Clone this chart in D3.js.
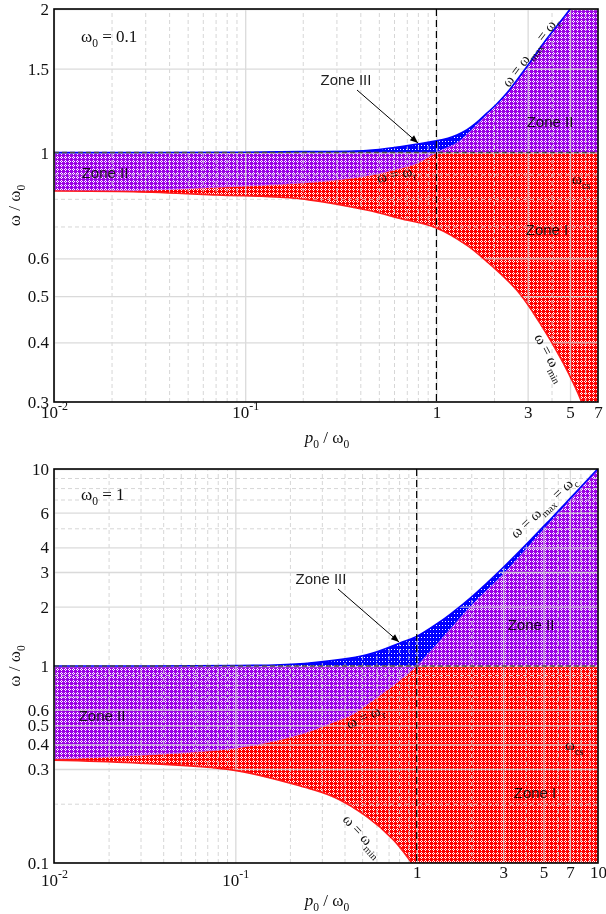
<!DOCTYPE html>
<html>
<head>
<meta charset="utf-8">
<script src="https://cdn.jsdelivr.net/npm/d3@7"></script>
<style>
  body { margin: 0; background: #fff; }
  svg { display: block; }
</style>
</head>
<body>
<svg id="chart" width="606" height="914"></svg>
<script>
// ---------- ω0 = 0.1 : boundary frequencies ω/ω0 against p0/ω0 ----------
const topMaxP = [0.01, 0.1, 0.194, 0.432, 0.645, 1, 1.15, 1.28, 1.44, 1.62, 1.83, 2.05, 2.33, 2.97, 3.77, 5, 7];
const topMax  = [1.000, 1.002, 1.005, 1.010, 1.029, 1.058, 1.072, 1.089, 1.115, 1.155, 1.208, 1.260, 1.331, 1.514, 1.730, 2.000, 2.450];
const topRP   = [0.01, 0.03, 0.071, 0.194, 0.353, 0.507, 0.645, 0.789, 1, 1.28, 1.44, 1.83, 2.33, 2.97, 3.77, 5, 7];
const topR    = [0.831, 0.834, 0.846, 0.863, 0.883, 0.905, 0.927, 0.949, 1.000, 1.047, 1.090, 1.200, 1.331, 1.520, 1.740, 2.010, 2.470];
const topMinP = [0.01, 0.026, 0.071, 0.194, 0.432, 0.645, 1, 1.44, 1.76, 2.63, 3.48, 4.61, 5.75, 7];
const topMin  = [0.831, 0.828, 0.815, 0.800, 0.758, 0.728, 0.695, 0.640, 0.600, 0.515, 0.439, 0.362, 0.300, 0.235];

// ---------- ω0 = 1 ----------
const botMaxP = [0.01, 0.1, 0.228, 0.531, 0.81, 1, 1.346, 1.53, 2.05, 3.01, 4.4, 5.44, 7, 10];
const botMax  = [1.000, 1.005, 1.026, 1.140, 1.310, 1.414, 1.680, 1.830, 2.280, 3.170, 4.510, 5.530, 7.070, 10.05];
const botRP   = [0.01, 0.0975, 0.228, 0.35, 0.43, 0.53, 0.65, 0.75, 0.81, 0.9, 1, 1.346, 2.05, 3.01, 5.44, 10];
const botR    = [0.337, 0.382, 0.450, 0.520, 0.560, 0.635, 0.728, 0.802, 0.849, 0.920, 1.000, 1.344, 2.070, 2.930, 5.360, 9.900];
const botMinP = [0.01, 0.027, 0.0975, 0.228, 0.347, 0.531, 0.745, 0.94, 1.2, 2, 5, 10];
const botMin  = [0.333, 0.323, 0.296, 0.246, 0.217, 0.172, 0.131, 0.100, 0.072, 0.034, 0.014, 0.007];

// ---------- ticks ----------
const topXTicks = [0.01, 0.1, 1, 3, 5, 7];
const topXMinor = [0.02, 0.03, 0.04, 0.05, 0.06, 0.07, 0.08, 0.09, 0.2, 0.3, 0.4, 0.5, 0.6, 0.7, 0.8, 0.9, 2, 4, 6];
const topYTicks = [0.3, 0.4, 0.5, 0.6, 1, 1.5, 2];
const topYMinor = [0.7, 0.8, 0.9];
const botXTicks = [0.01, 0.1, 1, 3, 5, 7, 10];
const botXMinor = [0.02, 0.03, 0.04, 0.05, 0.06, 0.07, 0.08, 0.09, 0.2, 0.3, 0.4, 0.5, 0.6, 0.7, 0.8, 0.9, 2, 4, 6, 8, 9];
const botYTicks = [0.1, 0.3, 0.4, 0.5, 0.6, 1, 2, 3, 4, 6, 10];
const botYMinor = [0.2, 0.7, 0.8, 0.9, 5, 7, 8, 9];

const SERIF = "'Liberation Serif', 'Times New Roman', serif";
const SANS = "'Liberation Sans', Arial, sans-serif";

const svg = d3.select("#chart");
const defs = svg.append("defs");

// dotted fill textures
function makePattern(id, color, w, h, holes) {
  const p = defs.append("pattern").attr("id", id)
    .attr("patternUnits", "userSpaceOnUse").attr("width", w).attr("height", h);
  p.append("rect").attr("width", w).attr("height", h).attr("fill", color);
  holes.forEach(([hx, hy]) => p.append("rect").attr("x", hx).attr("y", hy)
    .attr("width", 1).attr("height", 1).attr("fill", "#fff"));
}
makePattern("patRed", "#ff0000", 4, 4, [[1, 0], [0, 1], [2, 1], [1, 2]]);
makePattern("patPurple", "#9b00e6", 4, 4, [[1, 0], [0, 1], [2, 1], [1, 2]]);
makePattern("patBlue", "#0000ff", 3, 4, [[1, 1]]);

defs.append("marker").attr("id", "arrowHead")
  .attr("viewBox", "0 0 10 10").attr("refX", 10).attr("refY", 5)
  .attr("markerWidth", 10).attr("markerHeight", 8).attr("markerUnits", "userSpaceOnUse")
  .attr("orient", "auto")
  .append("path").attr("d", "M0,1 L10,5 L0,9 Z").attr("fill", "#000");

// text with subscript runs: parts = [[text, isSub], ...]
function richText(sel, parts, size) {
  let shift = 0;
  parts.forEach(([t, sub]) => {
    const target = sub ? size * 0.3 : 0;
    sel.append("tspan").text(t)
      .attr("dy", target - shift)
      .attr("font-size", sub ? size * 0.68 : size);
    shift = target;
  });
  return sel;
}

const smooth = d3.curveCatmullRom.alpha(0.5);

function drawPanel(cfg) {
  const L = 54, R = 598, T = cfg.top, B = cfg.bottom;
  const x = d3.scaleLog().domain(cfg.xDomain).range([L, R]);
  const y = d3.scaleLog().domain(cfg.yDomain).range([B, T]);
  const toRows = (ps, vs) => ps.map((p, i) => ({ p, v: vs[i] }));
  const maxRows = toRows(cfg.maxP, cfg.max);
  const rRows = toRows(cfg.rP, cfg.r);
  const minRows = toRows(cfg.minP, cfg.min);
  const id = cfg.id;
  const g = svg.append("g");

  // clip regions bounded by the boundary curves
  const clip = (name, shape) => defs.append("clipPath").attr("id", `${id}-${name}`).call(shape);
  const under = rows => d3.area().x(d => x(d.p)).y0(B + 5).y1(d => y(d.v)).curve(smooth)(rows);
  const over = rows => d3.area().x(d => x(d.p)).y0(T - 5).y1(d => y(d.v)).curve(smooth)(rows);
  clip("plot", c => c.append("rect").attr("x", L).attr("y", T).attr("width", R - L).attr("height", B - T));
  clip("below1", c => c.append("rect").attr("x", L).attr("y", y(1)).attr("width", R - L).attr("height", B - y(1) + 5));
  clip("above1", c => c.append("rect").attr("x", L).attr("y", T - 5).attr("width", R - L).attr("height", y(1) - T + 5));
  clip("belowMax", c => c.append("path").attr("d", under(maxRows)));
  clip("aboveMin", c => c.append("path").attr("d", over(minRows)));
  clip("belowR", c => c.append("path").attr("d", under(rRows)));
  clip("aboveR", c => c.append("path").attr("d", over(rRows)));

  const nest = (parent, names) => names.reduce((p, n) => p.append("g").attr("clip-path", `url(#${id}-${n})`), parent);
  const plot = nest(g, ["plot"]);
  const fillRect = (grp, pat) => grp.append("rect").attr("x", L).attr("y", T)
    .attr("width", R - L).attr("height", B - T).attr("fill", `url(#${pat})`);

  // Zone II between ω_min and ω_max, Zone I below ω_r and ω_cs, Zone III above both
  fillRect(nest(plot, ["belowMax", "aboveMin"]), "patPurple");
  fillRect(nest(plot, ["belowMax", "aboveMin", "below1", "belowR"]), "patRed");
  fillRect(nest(plot, ["belowMax", "aboveMin", "above1", "aboveR"]), "patBlue");

  // grid
  const grid = plot.append("g").attr("opacity", 0.85);
  const styleGrid = (s, dashed) => {
    s.select(".domain").remove();
    s.selectAll("line").attr("stroke", dashed ? "#cfcfcf" : "#d4d4d4")
      .attr("stroke-width", dashed ? 1 : 1.3)
      .attr("stroke-dasharray", dashed ? "4,3" : null);
  };
  grid.append("g").attr("transform", `translate(0,${B})`)
    .call(d3.axisBottom(x).tickValues(cfg.xMinor).tickSize(-(B - T)).tickFormat(""))
    .call(s => styleGrid(s, true));
  grid.append("g").attr("transform", `translate(${L},0)`)
    .call(d3.axisLeft(y).tickValues(cfg.yMinor).tickSize(-(R - L)).tickFormat(""))
    .call(s => styleGrid(s, true));
  grid.append("g").attr("transform", `translate(0,${B})`)
    .call(d3.axisBottom(x).tickValues(cfg.xTicks).tickSize(-(B - T)).tickFormat(""))
    .call(s => styleGrid(s, false));
  grid.append("g").attr("transform", `translate(${L},0)`)
    .call(d3.axisLeft(y).tickValues(cfg.yTicks).tickSize(-(R - L)).tickFormat(""))
    .call(s => styleGrid(s, false));

  // boundary curves
  const line = d3.line().x(d => x(d.p)).y(d => y(d.v)).curve(smooth);
  nest(plot, ["belowMax", "aboveMin"]).append("path").attr("d", line(rRows)).attr("fill", "none")
    .attr("stroke", "#c070ff").attr("stroke-width", 1).attr("opacity", 0.7);
  plot.append("path").attr("d", line(minRows)).attr("fill", "none")
    .attr("stroke", "#ff1a1a").attr("stroke-width", 1.6);
  plot.append("path").attr("d", line(maxRows)).attr("fill", "none")
    .attr("stroke", "#0000ff").attr("stroke-width", 1.6);

  // ω_cs level and p0 = ω0 marker
  plot.append("line").attr("x1", L).attr("x2", R).attr("y1", y(1)).attr("y2", y(1))
    .attr("stroke", "#4a4a4a").attr("stroke-width", 1.5).attr("stroke-dasharray", "5,3");
  plot.append("line").attr("x1", x(1)).attr("x2", x(1)).attr("y1", T).attr("y2", B)
    .attr("stroke", "#000").attr("stroke-width", 1.2).attr("stroke-dasharray", "7,4");

  // frame
  g.append("rect").attr("x", L).attr("y", T).attr("width", R - L).attr("height", B - T)
    .attr("fill", "none").attr("stroke", "#000").attr("stroke-width", 1.6);

  // y tick labels
  g.append("g").attr("transform", `translate(${L},0)`)
    .call(d3.axisLeft(y).tickValues(cfg.yTicks).tickSize(0).tickPadding(5).tickFormat(d3.format("~g")))
    .call(s => {
      s.select(".domain").remove();
      s.selectAll("text").attr("font-family", SERIF).attr("font-size", 17).attr("fill", "#111");
    });

  // x tick labels
  g.append("g").attr("transform", `translate(0,${B})`)
    .call(d3.axisBottom(x).tickValues(cfg.xTicks).tickSize(0).tickFormat(""))
    .call(s => {
      s.select(".domain").remove();
      s.selectAll(".tick text").each(function (d) {
        const t = d3.select(this).attr("dy", null)
          .attr("font-family", SERIF).attr("font-size", 17).attr("fill", "#111");
        if (d < 1) {
          const e = Math.round(Math.log10(d));
          t.attr("y", cfg.powBase - B);
          t.append("tspan").text("10");
          t.append("tspan").text("-" + Math.abs(e)).attr("font-size", 12).attr("dy", -8);
        } else {
          t.attr("y", cfg.numBase - B).text(d3.format("~g")(d));
        }
      });
    });

  // axis titles
  const yt = g.append("text").attr("transform", `translate(20,${(T + B) / 2}) rotate(-90)`)
    .attr("text-anchor", "middle").attr("font-family", SERIF).attr("fill", "#111");
  richText(yt, [["ω / ω", 0], ["0", 1]], 17);
  const xt = g.append("text").attr("x", 327).attr("y", cfg.titleBase)
    .attr("text-anchor", "middle").attr("font-family", SERIF).attr("fill", "#111");
  xt.append("tspan").text("p").attr("font-style", "italic").attr("font-size", 17);
  richText(xt, [["0", 1], [" / ω", 0], ["0", 1]], 17);

  // parameter label
  const pl = g.append("text").attr("x", 81).attr("y", cfg.paramBase)
    .attr("font-family", SERIF).attr("fill", "#111");
  richText(pl, [["ω", 0], ["0", 1], [" = " + cfg.omega0, 0]], 17);

  // curve annotations
  cfg.curveLabels.forEach(c => {
    const t = g.append("text").attr("transform", `translate(${c.x},${c.y}) rotate(${c.a})`)
      .attr("font-family", SERIF).attr("fill", "#111");
    richText(t, c.parts, 15);
  });

  // zone labels
  cfg.zones.forEach(z => {
    g.append("text").attr("x", z.x).attr("y", z.y + 5.5).attr("text-anchor", "middle")
      .attr("font-family", SANS).attr("font-size", 15)
      .attr("fill", "#000").attr("fill-opacity", 0.88).text(z.t);
  });

  // arrow to Zone III
  g.append("line").attr("x1", cfg.arrow[0]).attr("y1", cfg.arrow[1])
    .attr("x2", cfg.arrow[2]).attr("y2", cfg.arrow[3])
    .attr("stroke", "#000").attr("stroke-width", 1).attr("marker-end", "url(#arrowHead)");
}

const maxParts = [["ω = ω", 0], ["max", 1], [" = ω", 0], ["c", 1]];
const minParts = [["ω = ω", 0], ["min", 1]];
const rParts = [["ω = ω", 0], ["r", 1]];
const csParts = [["ω", 0], ["cs", 1]];

drawPanel({
  id: "p1", top: 9, bottom: 402, xDomain: [0.01, 7], yDomain: [0.3, 2],
  maxP: topMaxP, max: topMax, rP: topRP, r: topR, minP: topMinP, min: topMin,
  xTicks: topXTicks, xMinor: topXMinor, yTicks: topYTicks, yMinor: topYMinor,
  powBase: 418, numBase: 418, titleBase: 443, paramBase: 42, omega0: "0.1",
  curveLabels: [
    { x: 509, y: 88, a: -53, parts: maxParts },
    { x: 534, y: 337, a: 62, parts: minParts },
    { x: 378, y: 183, a: -12, parts: rParts },
    { x: 572, y: 184, a: 0, parts: csParts }
  ],
  zones: [
    { x: 105, y: 172, t: "Zone II" }, { x: 550, y: 121, t: "Zone II" },
    { x: 346, y: 79, t: "Zone III" }, { x: 547, y: 229, t: "Zone I" }
  ],
  arrow: [357, 90, 418, 143]
});

drawPanel({
  id: "p2", top: 469, bottom: 863, xDomain: [0.01, 10], yDomain: [0.1, 10],
  maxP: botMaxP, max: botMax, rP: botRP, r: botR, minP: botMinP, min: botMin,
  xTicks: botXTicks, xMinor: botXMinor, yTicks: botYTicks, yMinor: botYMinor,
  powBase: 886, numBase: 878, titleBase: 906, paramBase: 500, omega0: "1",
  curveLabels: [
    { x: 516, y: 539, a: -43, parts: maxParts },
    { x: 342, y: 820, a: 47.5, parts: minParts },
    { x: 349, y: 729, a: -24, parts: rParts },
    { x: 565, y: 750, a: 0, parts: csParts }
  ],
  zones: [
    { x: 102, y: 715, t: "Zone II" }, { x: 531, y: 624, t: "Zone II" },
    { x: 321, y: 578, t: "Zone III" }, { x: 535, y: 792, t: "Zone I" }
  ],
  arrow: [338, 589, 399, 642]
});
</script>
</body>
</html>
